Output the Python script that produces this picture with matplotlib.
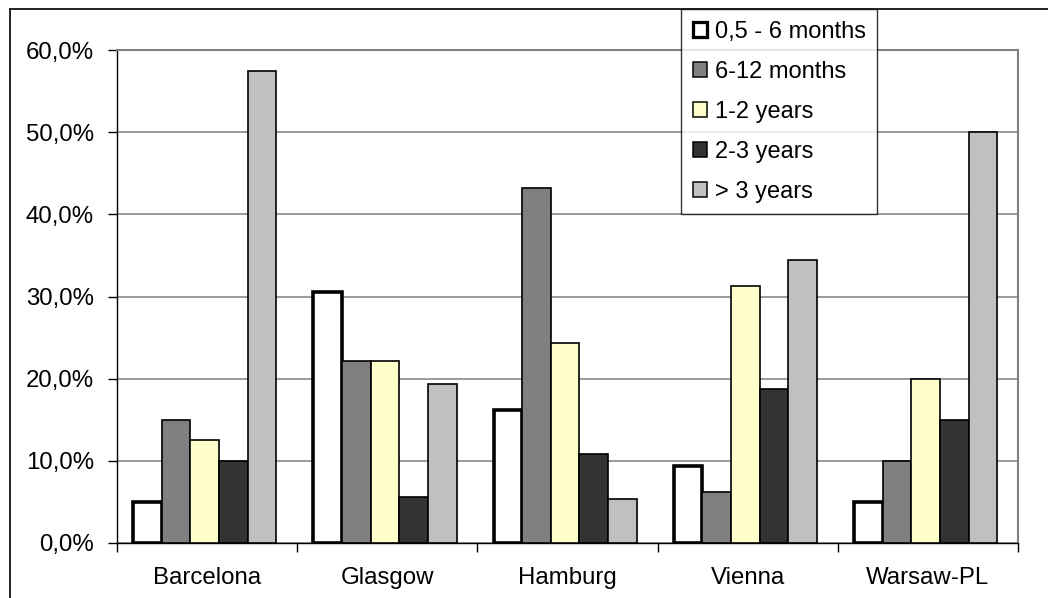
import matplotlib
matplotlib.use("Agg")
import matplotlib.pyplot as plt
from matplotlib.patches import Patch
from matplotlib.lines import Line2D
import numpy as np

plt.rcParams['font.family'] = ['Liberation Sans', 'DejaVu Sans']

cities = ["Barcelona", "Glasgow", "Hamburg", "Vienna", "Warsaw-PL"]
series_labels = ["0,5 - 6 months", "6-12 months", "1-2 years", "2-3 years", "> 3 years"]
months_0_6 = [5.0, 30.6, 16.2, 9.4, 5.0]
months_6_12 = [15.0, 22.2, 43.2, 6.25, 10.0]
years_1_2 = [12.5, 22.2, 24.3, 31.25, 20.0]
years_2_3 = [10.0, 5.6, 10.8, 18.75, 15.0]
years_3_plus = [57.5, 19.4, 5.4, 34.4, 50.0]
y_ticks = [0, 10, 20, 30, 40, 50, 60]

series = [months_0_6, months_6_12, years_1_2, years_2_3, years_3_plus]
fills = ["#FFFFFF", "#808080", "#FFFFCC", "#333333", "#C0C0C0"]
edge_w = [2.6, 1.2, 1.2, 1.2, 1.2]

W, H = 1048, 598
fig = plt.figure(figsize=(W / 100, H / 100), dpi=100)
ax = fig.add_axes([117 / W, 1 - 543 / H, (1018 - 117) / W, (543 - 50) / H])

x = np.arange(len(cities))
bw = 0.159
for i, (vals, fc, lw) in enumerate(zip(series, fills, edge_w)):
    ax.bar(x + (i - 2) * bw - 0.013, vals, width=bw, color=fc, edgecolor="black",
           linewidth=lw, zorder=3)

ax.set_xlim(-0.5, len(cities) - 0.5)
ax.set_ylim(0, 60)
ax.set_yticks(y_ticks)
ax.set_yticklabels([f"{v:.1f}%".replace(".", ",") for v in y_ticks])
ax.yaxis.grid(True, color="#808080", linewidth=1.1, zorder=0)

ax.set_xticks(np.arange(-0.5, len(cities), 1.0))
ax.set_xticklabels([])
ax.set_xticks(x, minor=True)
ax.set_xticklabels(cities, minor=True)
ax.tick_params(axis="x", which="minor", length=0, pad=17, labelsize=17.3)
ax.tick_params(axis="x", which="major", length=6.5, width=1, color="black")
ax.tick_params(axis="y", length=6.5, width=1, color="black", labelsize=17.3, pad=10)

for side in ("left", "bottom"):
    ax.spines[side].set_color("black")
    ax.spines[side].set_linewidth(1.0)
for side in ("top", "right"):
    ax.spines[side].set_color("#808080")
    ax.spines[side].set_linewidth(1.5)

handles = [Patch(facecolor=fc, edgecolor="black", linewidth=lw * 0.9)
           for fc, lw in zip(fills, edge_w)]
leg = fig.legend(handles, series_labels, loc="upper left",
                 bbox_to_anchor=(681 / W, 1 - 9 / H), frameon=True, fancybox=False,
                 fontsize=17, handlelength=0.62, handleheight=0.62, handletextpad=0.3,
                 labelspacing=0.76, borderpad=0.5, borderaxespad=0.0)
leg.get_frame().set_edgecolor("black")
leg.get_frame().set_linewidth(1.0)

# outer chart frame
fig.add_artist(Line2D([10 / W, 1.0], [1 - 9 / H, 1 - 9 / H], transform=fig.transFigure,
                      color="#222222", linewidth=1.4))
fig.add_artist(Line2D([10 / W, 10 / W], [0.0, 1 - 9 / H], transform=fig.transFigure,
                      color="#222222", linewidth=1.4))

fig.savefig("out.png", dpi=100)
